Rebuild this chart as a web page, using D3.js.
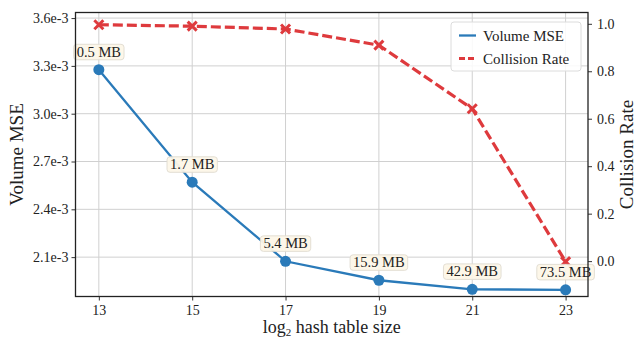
<!DOCTYPE html>
<html><head><meta charset="utf-8">
<script src="https://cdn.jsdelivr.net/npm/d3@7"></script>
<style>body{margin:0;background:#fff}svg{display:block}text{font-family:"Liberation Serif","DejaVu Serif",serif;fill:#222}</style>
</head><body><svg id="c" width="638" height="341"></svg>
<script>
const logSizes = [13, 15, 17, 19, 21, 23];
const volumeMSE = [3.276e-3, 2.570e-3, 2.074e-3, 1.955e-3, 1.898e-3, 1.895e-3];
const collisionRate = [0.996, 0.99, 0.978, 0.91, 0.642, -0.002];
const memoryLabels = ["0.5 MB", "1.7 MB", "5.4 MB", "15.9 MB", "42.9 MB", "73.5 MB"];
const leftTicks = [2.1e-3, 2.4e-3, 2.7e-3, 3.0e-3, 3.3e-3, 3.6e-3];
const rightTicks = [0.0, 0.2, 0.4, 0.6, 0.8, 1.0];

const FONT = '"Liberation Serif","DejaVu Serif",serif';
const svg = d3.select("#c");
const L = 75.5, R = 588, T = 12.5, B = 296.5;
const blue = "#2a7ab9", red = "#de3a3d";
const x = d3.scaleLinear().domain([12.5, 23.48]).range([L, R]);
const yL = d3.scaleLinear().domain([1.853e-3, 3.635e-3]).range([B, T]);
const yR = d3.scaleLinear().domain([-0.149, 1.0476]).range([B, T]);

// grid
const g = svg.append("g");
g.selectAll(".vx").data(logSizes).join("line").attr("x1", d => x(d)).attr("x2", d => x(d))
  .attr("y1", T).attr("y2", B).attr("stroke", "#d0d0d0").attr("stroke-width", 1);
g.selectAll(".hy").data(leftTicks).join("line").attr("y1", d => yL(d)).attr("y2", d => yL(d))
  .attr("x1", L).attr("x2", R).attr("stroke", "#d0d0d0").attr("stroke-width", 1);

// axes
const fmt = d => (d * 1000).toFixed(1) + "e-3";
const ax = svg.append("g").attr("transform", `translate(0,${B})`)
  .call(d3.axisBottom(x).tickValues(logSizes).tickSize(4).tickPadding(5));
const ayl = svg.append("g").attr("transform", `translate(${L},0)`)
  .call(d3.axisLeft(yL).tickValues(leftTicks).tickFormat(fmt).tickSize(4).tickPadding(3));
const ayr = svg.append("g").attr("transform", `translate(${R},0)`)
  .call(d3.axisRight(yR).tickValues(rightTicks).tickFormat(d3.format(".1f")).tickSize(4).tickPadding(5));
[ax, ayl, ayr].forEach(a => {
  a.attr("font-family", FONT);
  a.select(".domain").remove();
  a.selectAll("text").style("font-size", "14px").style("font-family", FONT).attr("fill", "#222");
  a.selectAll("line").attr("stroke", "#333");
});

// lines
svg.append("path").datum(logSizes.map((d, i) => [d, volumeMSE[i]]))
  .attr("d", d3.line().x(d => x(d[0])).y(d => yL(d[1])))
  .attr("fill", "none").attr("stroke", blue).attr("stroke-width", 2.3);
svg.append("path").datum(logSizes.map((d, i) => [d, collisionRate[i]]))
  .attr("d", d3.line().x(d => x(d[0])).y(d => yR(d[1])))
  .attr("fill", "none").attr("stroke", red).attr("stroke-width", 3.2).attr("stroke-dasharray", "10,4");

svg.selectAll(".pt").data(logSizes).join("circle")
  .attr("cx", d => x(d)).attr("cy", (d, i) => yL(volumeMSE[i])).attr("r", 5.5).attr("fill", blue);
const xs = 4.5;
svg.selectAll(".xm").data(logSizes).join("path")
  .attr("transform", (d, i) => `translate(${x(d)},${yR(collisionRate[i])})`)
  .attr("d", `M${-xs},${-xs}L${xs},${xs}M${-xs},${xs}L${xs},${-xs}`)
  .attr("stroke", red).attr("stroke-width", 3);

// memory labels
const lab = svg.selectAll(".lab").data(logSizes).join("g")
  .attr("transform", (d, i) => `translate(${x(d)},${yL(volumeMSE[i]) - 18})`);
lab.append("text").attr("text-anchor", "middle").attr("dy", "0.35em")
  .style("font-size", "14.5px").style("font-family", FONT)
  .text((d, i) => memoryLabels[i]);
lab.each(function () {
  const t = d3.select(this).select("text").node().getBBox();
  d3.select(this).insert("rect", "text").attr("x", t.x - 3).attr("y", t.y + 0.5)
    .attr("width", t.width + 6).attr("height", t.height - 0.5).attr("rx", 3)
    .attr("fill", "#fdf7e8").attr("stroke", "#e2ddd2").attr("stroke-width", 1).attr("opacity", 0.95);
});

// frame
svg.append("rect").attr("x", L).attr("y", T).attr("width", R - L).attr("height", B - T)
  .attr("fill", "none").attr("stroke", "#222").attr("stroke-width", 1.3);

// legend
const lg = svg.append("g").attr("transform", "translate(451,22)");
lg.append("rect").attr("width", 130).attr("height", 49).attr("rx", 3)
  .attr("fill", "#fff").attr("fill-opacity", 0.85).attr("stroke", "#dcdcdc");
const legendItems = [["Volume MSE", blue, null, 2.3], ["Collision Rate", red, "6,3", 3]];
legendItems.forEach((it, i) => {
  const yy = 13.5 + i * 23;
  lg.append("line").attr("x1", 8).attr("x2", 25).attr("y1", yy).attr("y2", yy)
    .attr("stroke", it[1]).attr("stroke-width", it[3]).attr("stroke-dasharray", it[2]);
  lg.append("text").attr("x", 32).attr("y", yy).attr("dy", "0.35em")
    .style("font-size", "15px").style("font-family", FONT).text(it[0]);
});

// axis titles
svg.append("text").attr("x", (L + R) / 2).attr("y", 333).attr("text-anchor", "middle")
  .style("font-size", "18px").style("font-family", FONT)
  .html('log<tspan dy="3" font-size="11px">2</tspan><tspan dy="-3"> hash table size</tspan>');
svg.append("text").attr("transform", `translate(23,${(T + B) / 2}) rotate(-90)`).attr("text-anchor", "middle")
  .style("font-size", "19px").style("font-family", FONT).text("Volume MSE");
svg.append("text").attr("transform", `translate(633,${(T + B) / 2}) rotate(-90)`).attr("text-anchor", "middle")
  .style("font-size", "19px").style("font-family", FONT).text("Collision Rate");
</script></body></html>
